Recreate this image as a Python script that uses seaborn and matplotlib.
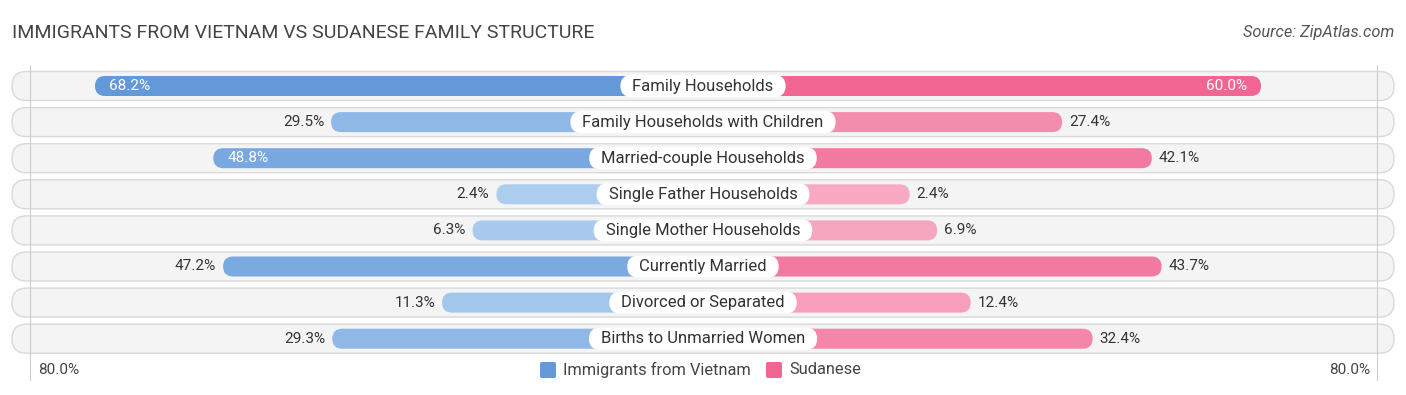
import numpy as np
import matplotlib.pyplot as plt
import seaborn as sns
from matplotlib.patches import FancyBboxPatch, Rectangle
from matplotlib.colors import to_rgb

sns.set_style('white')
plt.rcParams['font.family'] = ['Roboto', 'DejaVu Sans']

categories = ['Family Households', 'Family Households with Children', 'Married-couple Households',
              'Single Father Households', 'Single Mother Households', 'Currently Married',
              'Divorced or Separated', 'Births to Unmarried Women']
vietnam = [68.2, 29.5, 48.8, 2.4, 6.3, 47.2, 11.3, 29.3]
sudanese = [60.0, 27.4, 42.1, 2.4, 6.9, 43.7, 12.4, 32.4]
axis_max = 80.0

# layout in pixel terms
W, H = 1406, 395
cx = 703          # centre of the chart
ppu = 6.1         # px per percent
off = 192 / ppu   # bars start behind the centre label
row0, row_h = 86, 36.1

def shade(v, light, dark, vmax=68.2):
    t = min(v / vmax, 1.0)
    l, d = np.array(to_rgb(light)), np.array(to_rgb(dark))
    return tuple(l + (d - l) * t)

blue_cols = [shade(v, '#b0cff0', '#6399d9') for v in vietnam]
pink_cols = [shade(v, '#f7adc4', '#f06592', 60.0) for v in sudanese]

fig = plt.figure(figsize=(W / 100, H / 100), dpi=100)
ax = fig.add_axes([0, 0, 1, 1])

xl = cx / ppu
y_top = (0 - row0) / row_h
y_bot = (H - row0) / row_h
aspect = ppu / row_h  # y units per x unit for equal pixel rounding

ax.set_xlim(-xl, xl)
ax.set_ylim(y_bot, y_top)

# background pills
pill_half = (cx - 12) / ppu
pill_h = 29 / row_h
for i in range(len(categories)):
    r = 14.5 / ppu
    ax.add_patch(FancyBboxPatch((-pill_half + r, i - pill_h / 2 + r * aspect),
                                2 * pill_half - 2 * r, pill_h - 2 * r * aspect,
                                boxstyle=f'round,pad={r},rounding_size={r}',
                                mutation_aspect=aspect, fc='#f4f4f4', ec='#d9d9d9',
                                lw=1.0, zorder=0))

bar_h = 20 / row_h
left_x = [-(off + v) for v in vietnam]
right_x = [off + v for v in sudanese]
sns.barplot(x=left_x, y=categories, hue=categories, palette=blue_cols, legend=False,
            orient='h', width=bar_h, ax=ax, saturation=1)
sns.barplot(x=right_x, y=categories, hue=categories, palette=pink_cols, legend=False,
            orient='h', width=bar_h, ax=ax, saturation=1)

# swap rectangles for rounded ones
rects = [p for p in ax.patches if isinstance(p, Rectangle)]
for p in rects:
    x0, y0, w, h = p.get_x(), p.get_y(), p.get_width(), p.get_height()
    if w < 0:
        x0, w = x0 + w, -w
    r = 10 / ppu
    fc = p.get_facecolor()
    p.remove()
    ax.add_patch(FancyBboxPatch((x0 + r, y0 + r * aspect), max(w - 2 * r, 0.01), h - 2 * r * aspect,
                                boxstyle=f'round,pad={r},rounding_size={r}',
                                mutation_aspect=aspect, fc=fc, ec='none', zorder=2))

ax.set_xlim(-xl, xl)
ax.set_ylim(y_bot, y_top)

labels = []
for i, (cat, a, b) in enumerate(zip(categories, vietnam, sudanese)):
    labels.append(ax.text(0, i, cat, ha='center', va='center', fontsize=12,
                          color='#333333', zorder=6))
    if a >= 48:
        ax.text(-(off + a) + 14 / ppu, i, f'{a:.1f}%', ha='left', va='center',
                fontsize=11, color='white', zorder=5)
    else:
        ax.text(-(off + a) - 7 / ppu, i, f'{a:.1f}%', ha='right', va='center',
                fontsize=11, color='#333333', zorder=5)
    if b >= 48:
        ax.text(off + b - 14 / ppu, i, f'{b:.1f}%', ha='right', va='center',
                fontsize=11, color='white', zorder=5)
    else:
        ax.text(off + b + 7 / ppu, i, f'{b:.1f}%', ha='left', va='center',
                fontsize=11, color='#333333', zorder=5)

# white label boxes sized to the text
fig.canvas.draw()
rend = fig.canvas.get_renderer()
for i, t in enumerate(labels):
    bb = t.get_window_extent(rend)
    half_w = (bb.width / 2 + 12) / ppu
    r = 11 / ppu
    bh = 22 / row_h
    ax.add_patch(FancyBboxPatch((-half_w + r, i - bh / 2 + r * aspect), 2 * half_w - 2 * r,
                                bh - 2 * r * aspect, boxstyle=f'round,pad={r},rounding_size={r}',
                                mutation_aspect=aspect, fc='white', ec='none', zorder=4))

# faint edge lines
for px in (30, 1377):
    ax.plot([(px - cx) / ppu] * 2, [(65 - row0) / row_h, (380 - row0) / row_h],
            color='#cccccc', lw=0.8, zorder=1)

ax.axis('off')

ly = (370 - row0) / row_h
ax.text((38 - cx) / ppu, ly, f'{axis_max:.1f}%', ha='left', va='center', fontsize=11, color='#444444')
ax.text((1370 - cx) / ppu, ly, f'{axis_max:.1f}%', ha='right', va='center', fontsize=11, color='#444444')

# legend
for sx, col, lab in [(540, '#6399d9', 'Immigrants from Vietnam'), (766, '#f06592', 'Sudanese')]:
    ax.add_patch(FancyBboxPatch(((sx - cx) / ppu, ly - 8 / row_h), 16 / ppu, 16 / row_h,
                                boxstyle='round,pad=0,rounding_size=0.3', mutation_aspect=aspect,
                                fc=col, ec='none'))
    ax.text((sx + 23 - cx) / ppu, ly, lab, ha='left', va='center', fontsize=11.8, color='#444444')

fig.text(12 / W, 1 - 33 / H, 'IMMIGRANTS FROM VIETNAM VS SUDANESE FAMILY STRUCTURE',
         ha='left', va='center', fontsize=14, color='#444444')
fig.text(1394 / W, 1 - 33 / H, 'Source: ZipAtlas.com', ha='right', va='center',
         fontsize=11.8, color='#555555', style='italic')

fig.savefig('out.png', dpi=100)
